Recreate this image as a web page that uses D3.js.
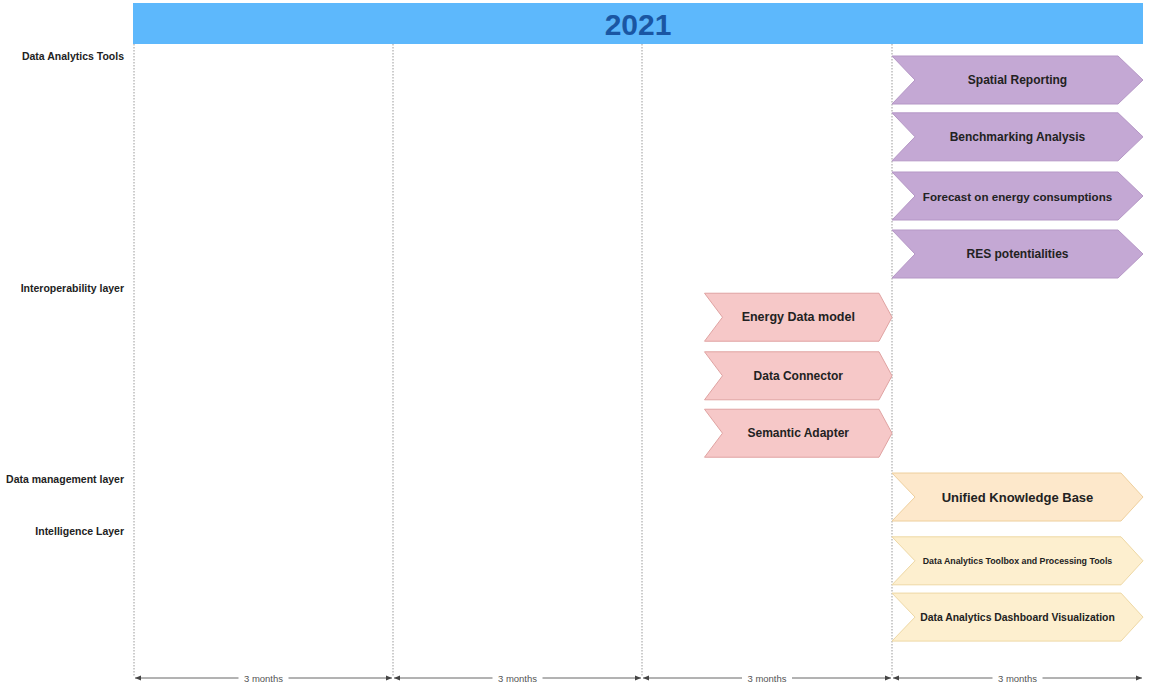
<!DOCTYPE html>
<html>
<head>
<meta charset="utf-8">
<script src="https://cdn.jsdelivr.net/npm/d3@7"></script>
<style>
  html, body { margin: 0; padding: 0; background: #fff; }
  svg { display: block; font-family: "Liberation Sans", Arial, sans-serif; }
</style>
</head>
<body>
<svg id="chart" width="1149" height="686"></svg>
<script>
// ---------- data ----------
const yearLabel = "2021";
const periodBounds = [0, 3, 6, 9, 12];               // months
const periodLabels = ["3 months", "3 months", "3 months", "3 months"];

const lanes = ["Data Analytics Tools", "Interoperability layer", "Data management layer", "Intelligence Layer"];
const laneSlots = [0, 4.0, 7.29, 8.19];

const taskNames = [
  "Spatial Reporting", "Benchmarking Analysis", "Forecast on energy consumptions", "RES potentialities",
  "Energy Data model", "Data Connector", "Semantic Adapter",
  "Unified Knowledge Base", "Data Analytics Toolbox and Processing Tools", "Data Analytics Dashboard Visualization"
];
const taskLane  = [0, 0, 0, 0, 1, 1, 1, 2, 3, 3];
const taskStart = [9, 9, 9, 9, 6.75, 6.75, 6.75, 9, 9, 9];
const taskEnd   = [12, 12, 12, 12, 9, 9, 9, 12, 12, 12];
const taskSlot  = [0, 0.98, 2.0, 3.0, 4.09, 5.1, 6.09, 7.19, 8.29, 9.26];

// ---------- styles ----------
const laneFill   = ["#c4a8d4", "#f6c8c8", "#fde8cb", "#fdefcf"];
const laneStroke = ["#b597c6", "#e0a3a2", "#eecf9c", "#eed8a4"];
const laneNotch  = [23, 18, 23, 23];
const laneTip    = [25, 13, 22, 22];
const taskFont   = [12, 12, 11.6, 12, 12.5, 12, 12, 13, 8.8, 10.4];

const svg = d3.select("#chart");

const x = d3.scaleLinear().domain(periodBounds).range([134, 393, 642, 892, 1143]);
const y = d3.scaleLinear().domain([0, 10]).range([56, 636]);
const rowH = 48;

// header bar
svg.append("rect")
  .attr("x", 133).attr("y", 3)
  .attr("width", 1143 - 133).attr("height", 41)
  .attr("fill", "#5db8fc");
svg.append("text")
  .attr("x", (133 + 1143) / 2).attr("y", 24)
  .attr("text-anchor", "middle").attr("dominant-baseline", "central")
  .attr("font-size", 30).attr("font-weight", "bold")
  .attr("fill", "#1a56a3")
  .text(yearLabel);

// vertical dashed grid lines (period starts only)
svg.append("g").selectAll("line")
  .data(periodBounds.slice(0, -1))
  .join("line")
  .attr("x1", d => x(d)).attr("x2", d => x(d))
  .attr("y1", 44).attr("y2", 677)
  .attr("stroke", "#9a9a9a")
  .attr("stroke-width", 1)
  .attr("stroke-dasharray", "1.5,1.5");

// lane labels
svg.append("g").selectAll("text")
  .data(lanes)
  .join("text")
  .attr("x", 124)
  .attr("y", (d, i) => y(laneSlots[i]))
  .attr("text-anchor", "end")
  .attr("dominant-baseline", "central")
  .attr("font-size", 10.5)
  .attr("font-weight", "bold")
  .attr("fill", "#222")
  .text(d => d);

// chevrons
function chevron(x0, x1, y0, h, notch, tip) {
  const ym = y0 + h / 2;
  return `M${x0},${y0} L${x1 - tip},${y0} L${x1},${ym} L${x1 - tip},${y0 + h} L${x0},${y0 + h} L${x0 + notch},${ym} Z`;
}
const tasks = taskNames.map((n, i) => ({
  name: n, lane: taskLane[i], start: taskStart[i], end: taskEnd[i], slot: taskSlot[i], fs: taskFont[i]
}));
const tg = svg.append("g").selectAll("g").data(tasks).join("g");
tg.append("path")
  .attr("d", d => chevron(x(d.start), x(d.end), y(d.slot), rowH, laneNotch[d.lane], laneTip[d.lane]))
  .attr("fill", d => laneFill[d.lane])
  .attr("stroke", d => laneStroke[d.lane])
  .attr("stroke-width", 1);
tg.append("text")
  .attr("x", d => (x(d.start) + x(d.end)) / 2)
  .attr("y", d => y(d.slot) + rowH / 2)
  .attr("text-anchor", "middle")
  .attr("dominant-baseline", "central")
  .attr("font-size", d => d.fs)
  .attr("font-weight", "bold")
  .attr("fill", "#222")
  .text(d => d.name);

// bottom axis with period arrows
const defs = svg.append("defs");
defs.append("marker").attr("id", "arrEnd")
  .attr("viewBox", "0 0 10 10").attr("refX", 10).attr("refY", 5)
  .attr("markerWidth", 6).attr("markerHeight", 6).attr("orient", "auto")
  .append("path").attr("d", "M0,1 L10,5 L0,9 Z").attr("fill", "#444");
defs.append("marker").attr("id", "arrStart")
  .attr("viewBox", "0 0 10 10").attr("refX", 0).attr("refY", 5)
  .attr("markerWidth", 6).attr("markerHeight", 6).attr("orient", "auto")
  .append("path").attr("d", "M10,1 L0,5 L10,9 Z").attr("fill", "#444");

const axisY = 678;
const periods = periodLabels.map((l, i) => ({ label: l, a: periodBounds[i], b: periodBounds[i + 1] }));
const pg = svg.append("g").selectAll("g").data(periods).join("g");
pg.append("line")
  .attr("x1", d => x(d.a) + 1).attr("x2", d => x(d.b) - 1)
  .attr("y1", axisY).attr("y2", axisY)
  .attr("stroke", "#666").attr("stroke-width", 1)
  .attr("marker-start", "url(#arrStart)")
  .attr("marker-end", "url(#arrEnd)");
pg.append("rect")
  .attr("x", d => (x(d.a) + x(d.b)) / 2 - 25).attr("y", axisY - 6)
  .attr("width", 50).attr("height", 12)
  .attr("fill", "#fff");
pg.append("text")
  .attr("x", d => (x(d.a) + x(d.b)) / 2)
  .attr("y", axisY)
  .attr("text-anchor", "middle")
  .attr("dominant-baseline", "central")
  .attr("font-size", 9.5)
  .attr("fill", "#555")
  .text(d => d.label);
</script>
</body>
</html>
